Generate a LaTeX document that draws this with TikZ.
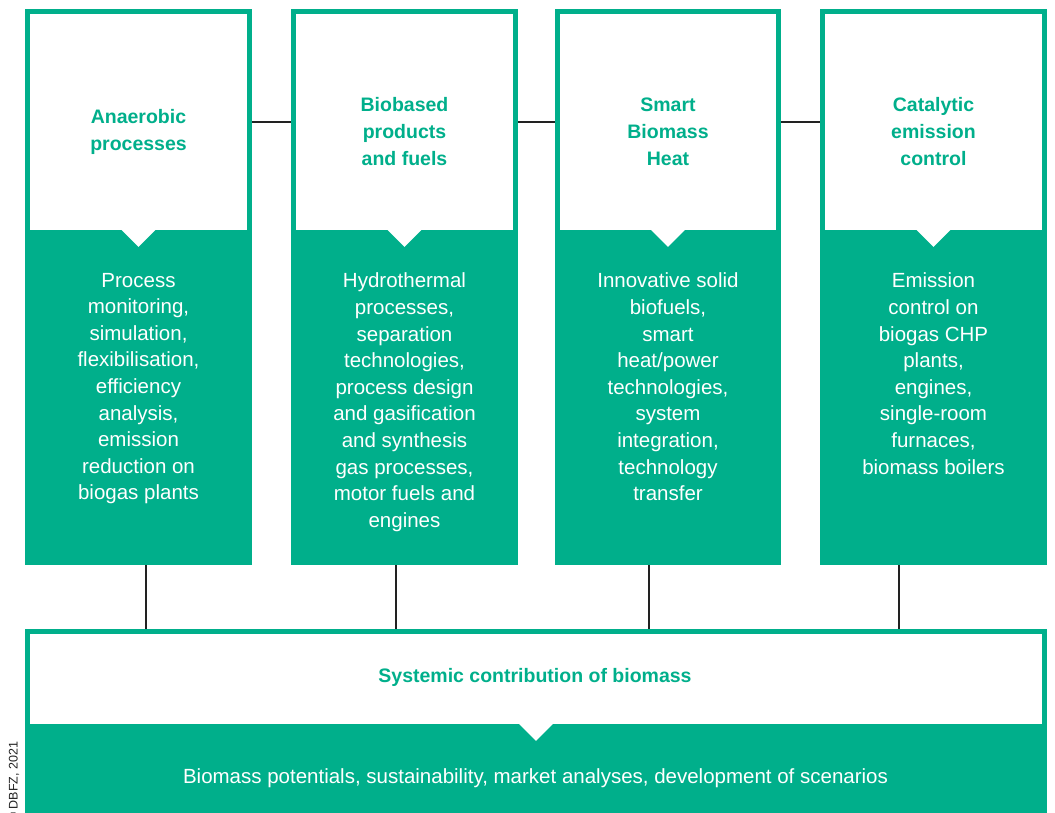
\documentclass[tikz,border=0pt]{standalone}
\usepackage{fontspec}
\setmainfont{Liberation Sans}
\definecolor{dgreen}{HTML}{00AF8B}
\definecolor{linec}{HTML}{222222}
\begin{document}
\begin{tikzpicture}[x=1pt,y=-1pt,
  topbox/.style={draw=dgreen,line width=5pt,fill=white,inner sep=0pt,
    minimum width=#1-5pt,minimum height=221pt},
  botbox/.style={fill=dgreen,inner sep=0pt,minimum width=#1,minimum height=335pt},
  headtxt/.style={text=dgreen,font=\fontsize{19.5}{27}\selectfont\bfseries,align=center},
  bodytxt/.style={text=white,font=\fontsize{20.5}{26.6}\selectfont,align=center,anchor=north,inner sep=0pt},
  conn/.style={draw=linec,line width=1.2pt},
  notch/.style={fill=white}]
\useasboundingbox (0,0) rectangle (1055,813);
% top boxes
\node[topbox=227pt] (t1) at (138.5,122) {};
\node[topbox=227pt] (t2) at (404.5,122) {};
\node[topbox=226pt] (t3) at (668,122) {};
\node[topbox=227pt] (t4) at (933.5,122) {};
\node[botbox=227pt] (b1) at (138.5,397.5) {};
\node[botbox=227pt] (b2) at (404.5,397.5) {};
\node[botbox=226pt] (b3) at (668,397.5) {};
\node[botbox=227pt] (b4) at (933.5,397.5) {};
\foreach \b in {b1,b2,b3,b4}{
  \fill[notch] ([xshift=-17pt]\b.north) -- ([xshift=17pt]\b.north) -- ([yshift=-17pt]\b.north) -- cycle;
}
% bottom box
\node[draw=dgreen,line width=5pt,fill=white,inner sep=0pt,minimum width=1017pt,minimum height=96pt] (st) at (536,679) {};
\node[fill=dgreen,inner sep=0pt,minimum width=1022pt,minimum height=92pt] (sb) at (536,770) {};
\fill[notch] ([xshift=-17pt]sb.north) -- ([xshift=17pt]sb.north) -- ([yshift=-17pt]sb.north) -- cycle;
% connectors
\draw[conn] (t1.east) -- (t2.west);
\draw[conn] (t2.east) -- (t3.west);
\draw[conn] (t3.east) -- (t4.west);
\draw[conn] ([xshift=7.5pt]b1.south) -- ([xshift=7.5pt]b1.south |- st.north);
\draw[conn] ([xshift=-8.5pt]b2.south) -- ([xshift=-8.5pt]b2.south |- st.north);
\draw[conn] ([xshift=-19pt]b3.south) -- ([xshift=-19pt]b3.south |- st.north);
\draw[conn] ([xshift=-34.5pt]b4.south) -- ([xshift=-34.5pt]b4.south |- st.north);
% headings
\node[headtxt] (h1) at ([yshift=-10pt]t1.center) {Anaerobic\\processes};
\node[headtxt] (h2) at ([yshift=-10pt]t2.center) {Biobased\\products\\and fuels};
\node[headtxt] (h3) at ([yshift=-10pt]t3.center) {Smart\\Biomass\\Heat};
\node[headtxt] (h4) at ([yshift=-10pt]t4.center) {Catalytic\\emission\\control};
% body
\node[bodytxt] (x1) at ([yshift=-43pt]b1.north) {Process\\monitoring,\\simulation,\\flexibilisation,\\efficiency\\analysis,\\emission\\reduction on\\biogas plants};
\node[bodytxt] (x2) at ([yshift=-43pt]b2.north) {Hydrothermal\\processes,\\separation\\technologies,\\process design\\and gasification\\and synthesis\\gas processes,\\motor fuels and\\engines};
\node[bodytxt] (x3) at ([yshift=-43pt]b3.north) {Innovative solid\\biofuels,\\smart\\heat/power\\technologies,\\system\\integration,\\technology\\transfer};
\node[bodytxt] (x4) at ([yshift=-43pt]b4.north) {Emission\\control on\\biogas CHP\\plants,\\engines,\\single-room\\furnaces,\\biomass boilers};
\node[headtxt] (hs) at (535,677) {Systemic contribution of biomass};
\node[text=white,font=\fontsize{20.5}{26.6}\selectfont] (xs) at (535.5,778) {Biomass potentials, sustainability, market analyses, development of scenarios};
\node[rotate=90,anchor=base west,inner sep=0pt,font=\fontsize{12.5}{14}\selectfont,text=linec] (cr) at (17.5,822) {© DBFZ, 2021};
\end{tikzpicture}
\end{document}
